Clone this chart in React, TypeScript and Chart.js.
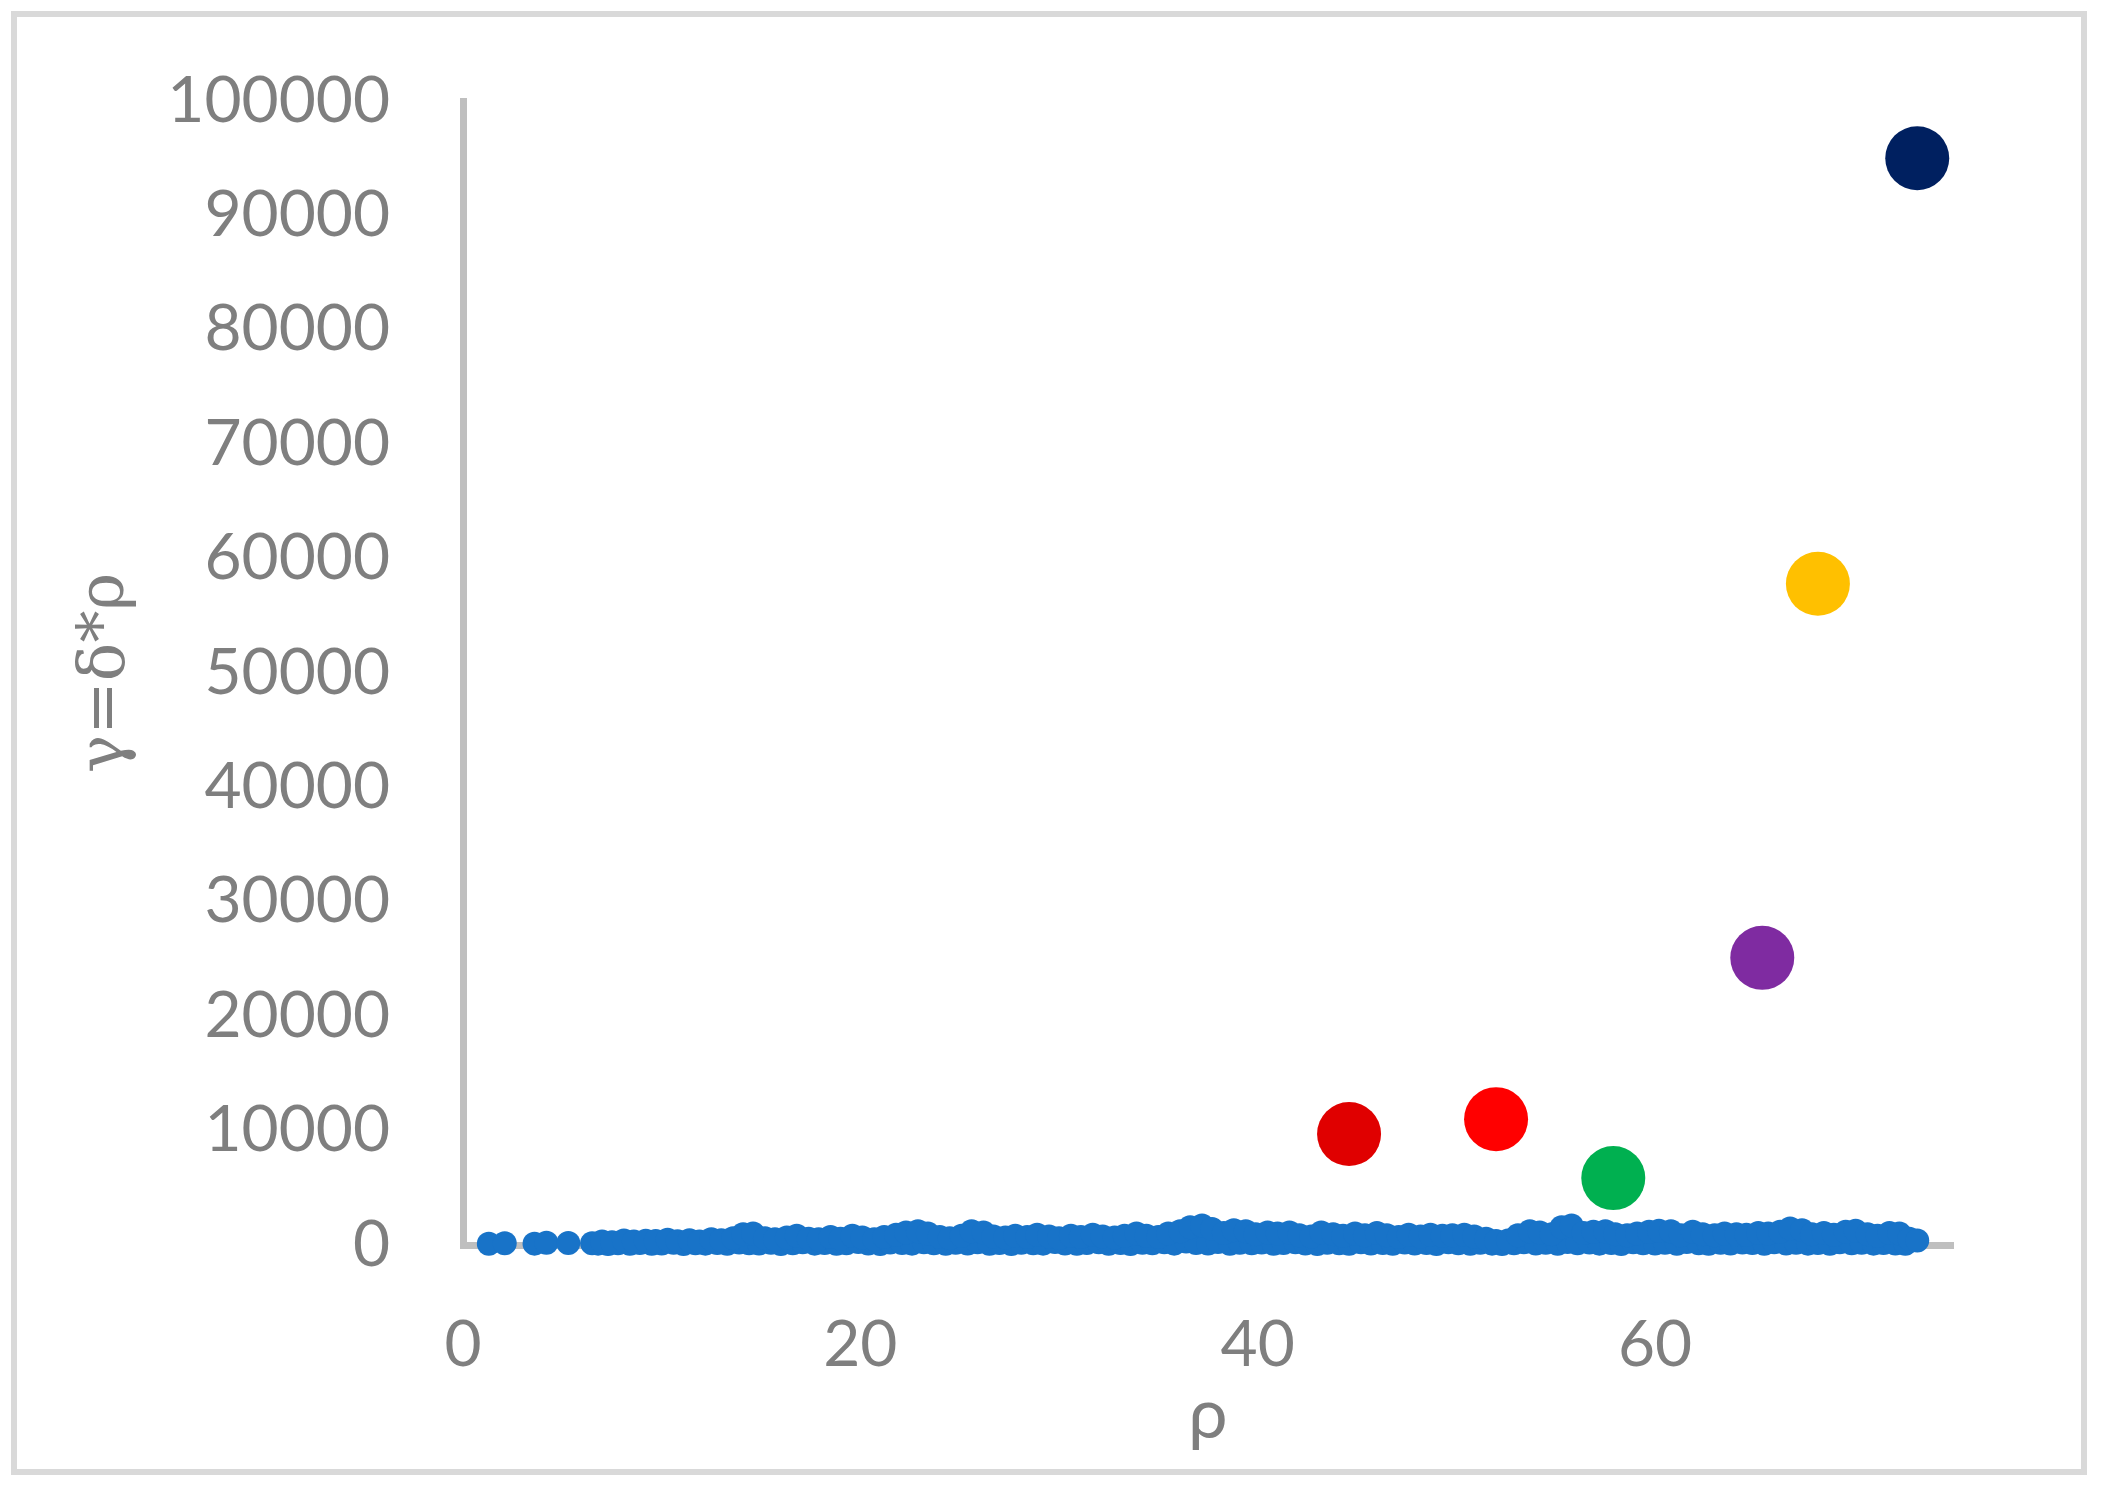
import React, { useEffect, useRef } from 'react';
import { Chart, registerables } from 'chart.js';

Chart.register(...registerables);

// Axis settings
const xMin = 0;
const xMax = 75;
const xStep = 20;
const yMin = 0;
const yMax = 100000;
const yStep = 10000;

const xTitle = 'ρ';
const yTitle = 'γ=δ*ρ';

// Main (blue) series: ρ values and γ values (upper edge of the band)
const blueRho = [
  1.3, 2.1, 3.6, 4.2, 5.3, 6.5, 7.0, 7.5, 8.1, 8.6, 9.2, 9.7, 10.3, 10.8, 11.4, 11.9,
  12.5, 13.0, 13.6, 14.1, 14.6, 15.2, 15.7, 16.3, 16.8, 17.4, 17.9, 18.5, 19.0, 19.6,
  20.1, 20.7, 21.2, 21.8, 22.3, 22.9, 23.4, 24.0, 24.5, 25.1, 25.6, 26.2, 26.7, 27.3,
  27.8, 28.4, 28.9, 29.5, 30.0, 30.6, 31.1, 31.7, 32.2, 32.8, 33.3, 33.9, 34.4, 35.0,
  35.5, 36.1, 36.6, 37.2, 37.7, 38.3, 38.8, 39.4, 39.9, 40.5, 41.0, 41.6, 42.1, 42.7,
  43.2, 43.8, 44.3, 44.9, 45.4, 46.0, 46.5, 47.1, 47.6, 48.2, 48.7, 49.3, 49.8, 50.4,
  50.9, 51.5, 52.0, 52.6, 53.1, 53.7, 54.2, 54.8, 55.3, 55.8, 56.4, 56.9, 57.5, 58.0,
  58.6, 59.1, 59.7, 60.2, 60.8, 61.3, 61.9, 62.4, 63.0, 63.5, 64.1, 64.6, 65.2, 65.7,
  66.3, 66.8, 67.4, 67.9, 68.5, 69.0, 69.6, 70.1, 70.7, 71.2, 71.8, 72.3, 72.8, 73.2,
];
const blueGamma = [
  100, 150, 120, 200, 180, 150, 300, 250, 400, 300, 380, 350, 450, 330, 420, 300,
  500, 420, 600, 950, 1000, 600, 500, 650, 800, 550, 500, 700, 550, 800,
  650, 500, 700, 900, 1100, 1200, 1000, 700, 600, 800, 1200, 1100, 750, 650,
  800, 700, 900, 750, 600, 800, 700, 900, 750, 650, 800, 1000, 800, 700,
  1000, 1200, 1550, 1700, 1400, 1050, 1300, 1200, 950, 1100, 1000, 1100, 850, 750,
  1100, 950, 800, 1000, 850, 1050, 850, 700, 900, 750, 900, 800, 850, 900,
  750, 550, 350, 400, 850, 1200, 1100, 950, 1550, 1700, 1050, 1150, 1200, 950,
  850, 1000, 1150, 1250, 1200, 850, 1150, 950, 850, 1000, 950, 900, 1050, 1000,
  1150, 1450, 1300, 950, 1050, 900, 1150, 1250, 950, 800, 1050, 1000, 550, 400,
];

// Main (blue) series, further points lying low in the band
const blueRhoLow = [
  6.8, 7.3, 7.8, 8.4, 8.9, 9.5, 10.0, 10.6, 11.1, 11.7, 12.2, 12.8, 13.3, 13.9, 14.4,
  14.9, 15.5, 16.0, 16.6, 17.1, 17.7, 18.2, 18.8, 19.3, 19.9, 20.4, 21.0, 21.5, 22.1,
  22.6, 23.2, 23.7, 24.3, 24.8, 25.4, 25.9, 26.5, 27.0, 27.6, 28.1, 28.7, 29.2, 29.8,
  30.3, 30.9, 31.4, 32.0, 32.5, 33.1, 33.6, 34.2, 34.7, 35.3, 35.8, 36.4, 36.9, 37.5,
  38.0, 38.6, 39.1, 39.7, 40.2, 40.8, 41.3, 41.9, 42.4, 43.0, 43.5, 44.1, 44.6, 45.2,
  45.7, 46.3, 46.8, 47.4, 47.9, 48.5, 49.0, 49.6, 50.1, 50.7, 51.2, 51.8, 52.3, 52.9,
  53.4, 54.0, 54.5, 55.1, 55.6, 56.1, 56.7, 57.2, 57.8, 58.3, 58.9, 59.4, 60.0, 60.5,
  61.1, 61.6, 62.2, 62.7, 63.3, 63.8, 64.4, 64.9, 65.5, 66.0, 66.6, 67.1, 67.7, 68.2,
  68.8, 69.3, 69.9, 70.4, 71.0, 71.5, 72.1, 72.6,
];
const blueGammaLow = [
  120, 90, 150, 110, 180, 100, 140, 200, 90, 160, 120, 180, 100, 220, 150,
  130, 200, 90, 160, 240, 120, 180, 100, 150, 260, 130, 90, 210, 170,
  120, 250, 160, 100, 190, 140, 230, 110, 180, 90, 200, 150, 120, 260,
  140, 100, 180, 230, 110, 170, 90, 200, 150, 240, 120, 300, 180, 140,
  260, 110, 190, 150, 220, 100, 170, 250, 130, 90, 200, 160, 110, 230,
  140, 180, 100, 210, 130, 170, 90, 250, 150, 110, 200, 120, 80, 160,
  230, 130, 190, 100, 270, 150, 210, 120, 180, 90, 240, 160, 130, 200,
  110, 260, 150, 100, 190, 130, 220, 170, 110, 240, 140, 200, 120, 180,
  100, 230, 150, 190, 120, 170, 140, 110,
];

// Highlighted points
const outlierRho = [44.6, 52.0, 57.9, 65.4, 68.2, 73.2];
const outlierGamma = [9700, 11000, 5850, 25100, 57800, 95000];
const outlierColors = ['#E00000', '#FF0000', '#00B050', '#7F2BA1', '#FFC000', '#002060'];

const blueColor = '#1873C8';
const textGray = '#7F7F7F';
const axisGray = '#BFBFBF';

export default function App() {
  const canvasRef = useRef<HTMLCanvasElement | null>(null);

  useEffect(() => {
    const canvas = canvasRef.current;
    if (!canvas) return;

    const blueData = [
      ...blueRhoLow.map((x, i) => ({ x, y: blueGammaLow[i] })),
      ...blueRho.map((x, i) => ({ x, y: blueGamma[i] })),
    ];
    const outlierSets = outlierRho.map((x, i) => ({
      label: 'p' + i,
      data: [{ x, y: outlierGamma[i] }],
      backgroundColor: outlierColors[i],
      borderColor: outlierColors[i],
      pointRadius: 32,
      pointHoverRadius: 32,
      borderWidth: 0,
      pointBorderWidth: 0,
      clip: false as any,
    }));

    const chart = new Chart(canvas, {
      type: 'scatter',
      data: {
        datasets: [
          ...outlierSets,
          {
            label: 'main',
            data: blueData,
            backgroundColor: blueColor,
            borderColor: blueColor,
            pointRadius: 12,
            pointHoverRadius: 12,
            borderWidth: 0,
            pointBorderWidth: 0,
            clip: false as any,
          },
        ],
      },
      options: {
        responsive: false,
        animation: false,
        events: [],
        layout: { padding: { top: 101, right: 151, left: 0, bottom: 0 } },
        plugins: {
          legend: { display: false },
          tooltip: { enabled: false },
          title: { display: false },
        },
        scales: {
          x: {
            type: 'linear',
            min: xMin,
            max: xMax,
            grid: { display: false, drawTicks: true, tickLength: 62 },
            border: { display: true, color: axisGray, width: 7 },
            ticks: {
              stepSize: xStep,
              includeBounds: false,
              color: textGray,
              padding: 0,
              font: { family: 'Lato', size: 64 },
              maxRotation: 0,
              callback: (v: any) => String(v),
            },
            title: {
              display: true,
              text: xTitle,
              color: textGray,
              font: { family: 'Lato', size: 70 },
              padding: { top: 0, bottom: 43 },
            },
            afterFit: (scale: any) => {
              scale.height = 255;
            },
          },
          y: {
            type: 'linear',
            min: yMin,
            max: yMax,
            grid: { display: false, drawTicks: true, tickLength: 73 },
            border: { display: true, color: axisGray, width: 7 },
            ticks: {
              stepSize: yStep,
              color: textGray,
              padding: 0,
              font: { family: 'Lato', size: 64 },
              callback: (v: any) => String(v),
            },
            title: {
              display: true,
              text: yTitle,
              color: textGray,
              font: { family: 'DejaVu Serif', size: 64 },
              padding: { top: 68, bottom: 0 },
            },
            afterFit: (scale: any) => {
              scale.width = 463;
            },
          },
        },
      },
    });

    return () => {
      chart.destroy();
    };
  }, []);

  return (
    <div style={{ position: 'absolute', left: 0, top: 0, width: 2104, height: 1500, background: '#FFFFFF' }}>
      <canvas
        ref={canvasRef}
        width={2104}
        height={1500}
        style={{ position: 'absolute', left: 0, top: 0, width: 2104, height: 1500 }}
      />
      <div
        style={{
          position: 'absolute',
          left: 11,
          top: 11,
          width: 2076,
          height: 1464,
          boxSizing: 'border-box',
          border: '6px solid #D9D9D9',
          pointerEvents: 'none',
        }}
      />
    </div>
  );
}
